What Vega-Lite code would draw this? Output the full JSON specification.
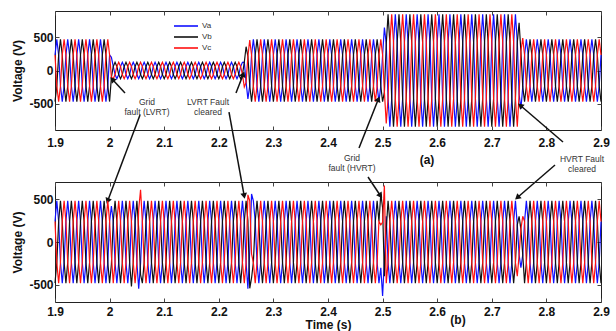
{
"$schema": "https://vega.github.io/schema/vega-lite/v6.json",
"usermeta": {"embedOptions": {"actions": false}},
"background": "white",
"padding": {"left": 11, "top": 10, "right": 6, "bottom": 0},
"config": {
  "font": "Liberation Sans",
  "view": {"stroke": "#222", "strokeWidth": 1},
  "axis": {"grid": false, "domain": false, "tickSize": -4, "tickColor": "#444", "labelFlush": false, "labelFont": "Liberation Sans", "labelFontWeight": "bold", "labelFontSize": 12, "labelColor": "#111", "titleFont": "Liberation Sans", "titleFontWeight": "bold", "titleFontSize": 12, "titleColor": "#111"}
},
"datasets": {
"w": [
{"t":1.9,"Va":235,"Vb":-470,"Vc":235,"a":240,"b":-480,"c":240},
{"t":1.9033,"Va":470,"Vb":-235,"Vc":-235,"a":480,"b":-240,"c":-240},
{"t":1.9067,"Va":235,"Vb":235,"Vc":-470,"a":240,"b":240,"c":-480},
{"t":1.91,"Va":-235,"Vb":470,"Vc":-235,"a":-240,"b":480,"c":-240},
{"t":1.9133,"Va":-470,"Vb":235,"Vc":235,"a":-480,"b":240,"c":240},
{"t":1.9167,"Va":-235,"Vb":-235,"Vc":470,"a":-240,"b":-240,"c":480},
{"t":1.92,"Va":235,"Vb":-470,"Vc":235,"a":240,"b":-480,"c":240},
{"t":1.9233,"Va":470,"Vb":-235,"Vc":-235,"a":480,"b":-240,"c":-240},
{"t":1.9267,"Va":235,"Vb":235,"Vc":-470,"a":240,"b":240,"c":-480},
{"t":1.93,"Va":-235,"Vb":470,"Vc":-235,"a":-240,"b":480,"c":-240},
{"t":1.9333,"Va":-470,"Vb":235,"Vc":235,"a":-480,"b":240,"c":240},
{"t":1.9367,"Va":-235,"Vb":-235,"Vc":470,"a":-240,"b":-240,"c":480},
{"t":1.94,"Va":235,"Vb":-470,"Vc":235,"a":240,"b":-480,"c":240},
{"t":1.9433,"Va":470,"Vb":-235,"Vc":-235,"a":480,"b":-240,"c":-240},
{"t":1.9467,"Va":235,"Vb":235,"Vc":-470,"a":240,"b":240,"c":-480},
{"t":1.95,"Va":-235,"Vb":470,"Vc":-235,"a":-240,"b":480,"c":-240},
{"t":1.9533,"Va":-470,"Vb":235,"Vc":235,"a":-480,"b":240,"c":240},
{"t":1.9567,"Va":-235,"Vb":-235,"Vc":470,"a":-240,"b":-240,"c":480},
{"t":1.96,"Va":235,"Vb":-470,"Vc":235,"a":240,"b":-480,"c":240},
{"t":1.9633,"Va":470,"Vb":-235,"Vc":-235,"a":480,"b":-240,"c":-240},
{"t":1.9667,"Va":235,"Vb":235,"Vc":-470,"a":240,"b":240,"c":-480},
{"t":1.97,"Va":-235,"Vb":470,"Vc":-235,"a":-240,"b":480,"c":-240},
{"t":1.9733,"Va":-470,"Vb":235,"Vc":235,"a":-480,"b":240,"c":240},
{"t":1.9767,"Va":-235,"Vb":-235,"Vc":470,"a":-240,"b":-240,"c":480},
{"t":1.98,"Va":235,"Vb":-470,"Vc":235,"a":240,"b":-480,"c":240},
{"t":1.9833,"Va":470,"Vb":-235,"Vc":-235,"a":480,"b":-240,"c":-240},
{"t":1.9867,"Va":235,"Vb":235,"Vc":-470,"a":240,"b":240,"c":-480},
{"t":1.99,"Va":-235,"Vb":470,"Vc":-235,"a":-240,"b":480,"c":-240},
{"t":1.9933,"Va":-470,"Vb":235,"Vc":235,"a":-480,"b":240,"c":240},
{"t":1.9967,"Va":-235,"Vb":-235,"Vc":470,"a":-240,"b":-240,"c":480},
{"t":2,"Va":235,"Vb":-470,"Vc":235,"a":240,"b":-480,"c":240},
{"t":2.0033,"Va":200,"Vb":-100,"Vc":-100,"a":420,"b":-260,"c":-160},
{"t":2.0067,"Va":62,"Vb":62,"Vc":-124,"a":240,"b":240,"c":-480},
{"t":2.01,"Va":-62,"Vb":124,"Vc":-62,"a":-240,"b":480,"c":-240},
{"t":2.0133,"Va":-124,"Vb":62,"Vc":62,"a":-480,"b":240,"c":240},
{"t":2.0167,"Va":-62,"Vb":-62,"Vc":124,"a":-240,"b":-240,"c":480},
{"t":2.02,"Va":62,"Vb":-124,"Vc":62,"a":240,"b":-480,"c":240},
{"t":2.0233,"Va":124,"Vb":-62,"Vc":-62,"a":480,"b":-240,"c":-240},
{"t":2.0267,"Va":62,"Vb":62,"Vc":-124,"a":240,"b":240,"c":-480},
{"t":2.03,"Va":-62,"Vb":124,"Vc":-62,"a":-240,"b":480,"c":-240},
{"t":2.0333,"Va":-124,"Vb":62,"Vc":62,"a":-480,"b":240,"c":240},
{"t":2.0367,"Va":-62,"Vb":-62,"Vc":124,"a":-240,"b":-240,"c":480},
{"t":2.04,"Va":62,"Vb":-124,"Vc":62,"a":240,"b":-520,"c":240},
{"t":2.0433,"Va":124,"Vb":-62,"Vc":-62,"a":480,"b":-240,"c":-240},
{"t":2.0467,"Va":62,"Vb":62,"Vc":-124,"a":240,"b":240,"c":-480},
{"t":2.05,"Va":-62,"Vb":124,"Vc":-62,"a":-240,"b":480,"c":-240},
{"t":2.0533,"Va":-124,"Vb":62,"Vc":62,"a":-545,"b":150,"c":380},
{"t":2.0567,"Va":-62,"Vb":-62,"Vc":124,"a":-250,"b":-380,"c":610},
{"t":2.06,"Va":62,"Vb":-124,"Vc":62,"a":240,"b":-480,"c":240},
{"t":2.0633,"Va":124,"Vb":-62,"Vc":-62,"a":480,"b":-240,"c":-240},
{"t":2.0667,"Va":62,"Vb":62,"Vc":-124,"a":240,"b":240,"c":-480},
{"t":2.07,"Va":-62,"Vb":124,"Vc":-62,"a":-240,"b":480,"c":-240},
{"t":2.0733,"Va":-124,"Vb":62,"Vc":62,"a":-480,"b":240,"c":240},
{"t":2.0767,"Va":-62,"Vb":-62,"Vc":124,"a":-240,"b":-240,"c":480},
{"t":2.08,"Va":62,"Vb":-124,"Vc":62,"a":240,"b":-480,"c":240},
{"t":2.0833,"Va":124,"Vb":-62,"Vc":-62,"a":480,"b":-240,"c":-240},
{"t":2.0867,"Va":62,"Vb":62,"Vc":-124,"a":240,"b":240,"c":-480},
{"t":2.09,"Va":-62,"Vb":124,"Vc":-62,"a":-240,"b":480,"c":-240},
{"t":2.0933,"Va":-124,"Vb":62,"Vc":62,"a":-480,"b":240,"c":240},
{"t":2.0967,"Va":-62,"Vb":-62,"Vc":124,"a":-240,"b":-240,"c":480},
{"t":2.1,"Va":62,"Vb":-124,"Vc":62,"a":240,"b":-480,"c":240},
{"t":2.1033,"Va":124,"Vb":-62,"Vc":-62,"a":480,"b":-240,"c":-240},
{"t":2.1067,"Va":62,"Vb":62,"Vc":-124,"a":240,"b":240,"c":-480},
{"t":2.11,"Va":-62,"Vb":124,"Vc":-62,"a":-240,"b":480,"c":-240},
{"t":2.1133,"Va":-124,"Vb":62,"Vc":62,"a":-480,"b":240,"c":240},
{"t":2.1167,"Va":-62,"Vb":-62,"Vc":124,"a":-240,"b":-240,"c":480},
{"t":2.12,"Va":62,"Vb":-124,"Vc":62,"a":240,"b":-480,"c":240},
{"t":2.1233,"Va":124,"Vb":-62,"Vc":-62,"a":480,"b":-240,"c":-240},
{"t":2.1267,"Va":62,"Vb":62,"Vc":-124,"a":240,"b":240,"c":-480},
{"t":2.13,"Va":-62,"Vb":124,"Vc":-62,"a":-240,"b":480,"c":-240},
{"t":2.1333,"Va":-124,"Vb":62,"Vc":62,"a":-480,"b":240,"c":240},
{"t":2.1367,"Va":-62,"Vb":-62,"Vc":124,"a":-240,"b":-240,"c":480},
{"t":2.14,"Va":62,"Vb":-124,"Vc":62,"a":240,"b":-480,"c":240},
{"t":2.1433,"Va":124,"Vb":-62,"Vc":-62,"a":480,"b":-240,"c":-240},
{"t":2.1467,"Va":62,"Vb":62,"Vc":-124,"a":240,"b":240,"c":-480},
{"t":2.15,"Va":-62,"Vb":124,"Vc":-62,"a":-240,"b":480,"c":-240},
{"t":2.1533,"Va":-124,"Vb":62,"Vc":62,"a":-480,"b":240,"c":240},
{"t":2.1567,"Va":-62,"Vb":-62,"Vc":124,"a":-240,"b":-240,"c":480},
{"t":2.16,"Va":62,"Vb":-124,"Vc":62,"a":240,"b":-480,"c":240},
{"t":2.1633,"Va":124,"Vb":-62,"Vc":-62,"a":480,"b":-240,"c":-240},
{"t":2.1667,"Va":62,"Vb":62,"Vc":-124,"a":240,"b":240,"c":-480},
{"t":2.17,"Va":-62,"Vb":124,"Vc":-62,"a":-240,"b":480,"c":-240},
{"t":2.1733,"Va":-124,"Vb":62,"Vc":62,"a":-480,"b":240,"c":240},
{"t":2.1767,"Va":-62,"Vb":-62,"Vc":124,"a":-240,"b":-240,"c":480},
{"t":2.18,"Va":62,"Vb":-124,"Vc":62,"a":240,"b":-480,"c":240},
{"t":2.1833,"Va":124,"Vb":-62,"Vc":-62,"a":480,"b":-240,"c":-240},
{"t":2.1867,"Va":62,"Vb":62,"Vc":-124,"a":240,"b":240,"c":-480},
{"t":2.19,"Va":-62,"Vb":124,"Vc":-62,"a":-240,"b":480,"c":-240},
{"t":2.1933,"Va":-124,"Vb":62,"Vc":62,"a":-480,"b":240,"c":240},
{"t":2.1967,"Va":-62,"Vb":-62,"Vc":124,"a":-240,"b":-240,"c":480},
{"t":2.2,"Va":62,"Vb":-124,"Vc":62,"a":240,"b":-480,"c":240},
{"t":2.2033,"Va":124,"Vb":-62,"Vc":-62,"a":480,"b":-240,"c":-240},
{"t":2.2067,"Va":62,"Vb":62,"Vc":-124,"a":240,"b":240,"c":-480},
{"t":2.21,"Va":-62,"Vb":124,"Vc":-62,"a":-240,"b":480,"c":-240},
{"t":2.2133,"Va":-124,"Vb":62,"Vc":62,"a":-480,"b":240,"c":240},
{"t":2.2167,"Va":-62,"Vb":-62,"Vc":124,"a":-240,"b":-240,"c":480},
{"t":2.22,"Va":62,"Vb":-124,"Vc":62,"a":240,"b":-480,"c":240},
{"t":2.2233,"Va":124,"Vb":-62,"Vc":-62,"a":480,"b":-240,"c":-240},
{"t":2.2267,"Va":62,"Vb":62,"Vc":-124,"a":240,"b":240,"c":-480},
{"t":2.23,"Va":-62,"Vb":124,"Vc":-62,"a":-240,"b":480,"c":-240},
{"t":2.2333,"Va":-124,"Vb":62,"Vc":62,"a":-480,"b":240,"c":240},
{"t":2.2367,"Va":-62,"Vb":-62,"Vc":124,"a":-240,"b":-240,"c":480},
{"t":2.24,"Va":62,"Vb":-124,"Vc":62,"a":240,"b":-480,"c":240},
{"t":2.2433,"Va":124,"Vb":-62,"Vc":-62,"a":480,"b":-240,"c":-240},
{"t":2.2467,"Va":125,"Vb":125,"Vc":-250,"a":240,"b":240,"c":-480},
{"t":2.25,"Va":-180,"Vb":360,"Vc":-180,"a":-240,"b":480,"c":-240},
{"t":2.2533,"Va":-430,"Vb":215,"Vc":215,"a":-545,"b":250,"c":550},
{"t":2.2567,"Va":-230,"Vb":-230,"Vc":460,"a":-100,"b":-540,"c":480},
{"t":2.26,"Va":235,"Vb":-470,"Vc":235,"a":560,"b":-420,"c":-140},
{"t":2.2633,"Va":470,"Vb":-235,"Vc":-235,"a":480,"b":-240,"c":-240},
{"t":2.2667,"Va":235,"Vb":235,"Vc":-470,"a":240,"b":240,"c":-480},
{"t":2.27,"Va":-235,"Vb":470,"Vc":-235,"a":-240,"b":480,"c":-240},
{"t":2.2733,"Va":-470,"Vb":235,"Vc":235,"a":-480,"b":240,"c":240},
{"t":2.2767,"Va":-235,"Vb":-235,"Vc":470,"a":-240,"b":-240,"c":480},
{"t":2.28,"Va":235,"Vb":-470,"Vc":235,"a":240,"b":-480,"c":240},
{"t":2.2833,"Va":470,"Vb":-235,"Vc":-235,"a":480,"b":-240,"c":-240},
{"t":2.2867,"Va":235,"Vb":235,"Vc":-470,"a":240,"b":240,"c":-480},
{"t":2.29,"Va":-235,"Vb":470,"Vc":-235,"a":-240,"b":480,"c":-240},
{"t":2.2933,"Va":-470,"Vb":235,"Vc":235,"a":-480,"b":240,"c":240},
{"t":2.2967,"Va":-235,"Vb":-235,"Vc":470,"a":-240,"b":-240,"c":480},
{"t":2.3,"Va":235,"Vb":-470,"Vc":235,"a":240,"b":-480,"c":240},
{"t":2.3033,"Va":470,"Vb":-235,"Vc":-235,"a":480,"b":-240,"c":-240},
{"t":2.3067,"Va":235,"Vb":235,"Vc":-470,"a":240,"b":240,"c":-480},
{"t":2.31,"Va":-235,"Vb":470,"Vc":-235,"a":-240,"b":480,"c":-240},
{"t":2.3133,"Va":-470,"Vb":235,"Vc":235,"a":-480,"b":240,"c":240},
{"t":2.3167,"Va":-235,"Vb":-235,"Vc":470,"a":-240,"b":-240,"c":480},
{"t":2.32,"Va":235,"Vb":-470,"Vc":235,"a":240,"b":-480,"c":240},
{"t":2.3233,"Va":470,"Vb":-235,"Vc":-235,"a":480,"b":-240,"c":-240},
{"t":2.3267,"Va":235,"Vb":235,"Vc":-470,"a":240,"b":240,"c":-480},
{"t":2.33,"Va":-235,"Vb":470,"Vc":-235,"a":-240,"b":480,"c":-240},
{"t":2.3333,"Va":-470,"Vb":235,"Vc":235,"a":-480,"b":240,"c":240},
{"t":2.3367,"Va":-235,"Vb":-235,"Vc":470,"a":-240,"b":-240,"c":480},
{"t":2.34,"Va":235,"Vb":-470,"Vc":235,"a":240,"b":-480,"c":240},
{"t":2.3433,"Va":470,"Vb":-235,"Vc":-235,"a":480,"b":-240,"c":-240},
{"t":2.3467,"Va":235,"Vb":235,"Vc":-470,"a":240,"b":240,"c":-480},
{"t":2.35,"Va":-235,"Vb":470,"Vc":-235,"a":-240,"b":480,"c":-240},
{"t":2.3533,"Va":-470,"Vb":235,"Vc":235,"a":-480,"b":240,"c":240},
{"t":2.3567,"Va":-235,"Vb":-235,"Vc":470,"a":-240,"b":-240,"c":480},
{"t":2.36,"Va":235,"Vb":-470,"Vc":235,"a":240,"b":-480,"c":240},
{"t":2.3633,"Va":470,"Vb":-235,"Vc":-235,"a":480,"b":-240,"c":-240},
{"t":2.3667,"Va":235,"Vb":235,"Vc":-470,"a":240,"b":240,"c":-480},
{"t":2.37,"Va":-235,"Vb":470,"Vc":-235,"a":-240,"b":480,"c":-240},
{"t":2.3733,"Va":-470,"Vb":235,"Vc":235,"a":-480,"b":240,"c":240},
{"t":2.3767,"Va":-235,"Vb":-235,"Vc":470,"a":-240,"b":-240,"c":480},
{"t":2.38,"Va":235,"Vb":-470,"Vc":235,"a":240,"b":-480,"c":240},
{"t":2.3833,"Va":470,"Vb":-235,"Vc":-235,"a":480,"b":-240,"c":-240},
{"t":2.3867,"Va":235,"Vb":235,"Vc":-470,"a":240,"b":240,"c":-480},
{"t":2.39,"Va":-235,"Vb":470,"Vc":-235,"a":-240,"b":480,"c":-240},
{"t":2.3933,"Va":-470,"Vb":235,"Vc":235,"a":-480,"b":240,"c":240},
{"t":2.3967,"Va":-235,"Vb":-235,"Vc":470,"a":-240,"b":-240,"c":480},
{"t":2.4,"Va":235,"Vb":-470,"Vc":235,"a":240,"b":-480,"c":240},
{"t":2.4033,"Va":470,"Vb":-235,"Vc":-235,"a":480,"b":-240,"c":-240},
{"t":2.4067,"Va":235,"Vb":235,"Vc":-470,"a":240,"b":240,"c":-480},
{"t":2.41,"Va":-235,"Vb":470,"Vc":-235,"a":-240,"b":480,"c":-240},
{"t":2.4133,"Va":-470,"Vb":235,"Vc":235,"a":-480,"b":240,"c":240},
{"t":2.4167,"Va":-235,"Vb":-235,"Vc":470,"a":-240,"b":-240,"c":480},
{"t":2.42,"Va":235,"Vb":-470,"Vc":235,"a":240,"b":-480,"c":240},
{"t":2.4233,"Va":470,"Vb":-235,"Vc":-235,"a":480,"b":-240,"c":-240},
{"t":2.4267,"Va":235,"Vb":235,"Vc":-470,"a":240,"b":240,"c":-480},
{"t":2.43,"Va":-235,"Vb":470,"Vc":-235,"a":-240,"b":480,"c":-240},
{"t":2.4333,"Va":-470,"Vb":235,"Vc":235,"a":-480,"b":240,"c":240},
{"t":2.4367,"Va":-235,"Vb":-235,"Vc":470,"a":-240,"b":-240,"c":480},
{"t":2.44,"Va":235,"Vb":-470,"Vc":235,"a":240,"b":-480,"c":240},
{"t":2.4433,"Va":470,"Vb":-235,"Vc":-235,"a":480,"b":-240,"c":-240},
{"t":2.4467,"Va":235,"Vb":235,"Vc":-470,"a":240,"b":240,"c":-480},
{"t":2.45,"Va":-235,"Vb":470,"Vc":-235,"a":-240,"b":480,"c":-240},
{"t":2.4533,"Va":-470,"Vb":235,"Vc":235,"a":-480,"b":240,"c":240},
{"t":2.4567,"Va":-235,"Vb":-235,"Vc":470,"a":-240,"b":-240,"c":480},
{"t":2.46,"Va":235,"Vb":-470,"Vc":235,"a":240,"b":-480,"c":240},
{"t":2.4633,"Va":470,"Vb":-235,"Vc":-235,"a":480,"b":-240,"c":-240},
{"t":2.4667,"Va":235,"Vb":235,"Vc":-470,"a":240,"b":240,"c":-480},
{"t":2.47,"Va":-235,"Vb":470,"Vc":-235,"a":-240,"b":480,"c":-240},
{"t":2.4733,"Va":-470,"Vb":235,"Vc":235,"a":-480,"b":240,"c":240},
{"t":2.4767,"Va":-235,"Vb":-235,"Vc":470,"a":-240,"b":-240,"c":480},
{"t":2.48,"Va":235,"Vb":-470,"Vc":235,"a":240,"b":-480,"c":240},
{"t":2.4833,"Va":470,"Vb":-235,"Vc":-235,"a":480,"b":-240,"c":-240},
{"t":2.4867,"Va":235,"Vb":235,"Vc":-470,"a":240,"b":240,"c":-480},
{"t":2.49,"Va":-235,"Vb":470,"Vc":-235,"a":-240,"b":480,"c":-240},
{"t":2.4933,"Va":-470,"Vb":235,"Vc":235,"a":-480,"b":240,"c":240},
{"t":2.4967,"Va":-235,"Vb":-235,"Vc":470,"a":-300,"b":560,"c":200},
{"t":2.5,"Va":235,"Vb":-470,"Vc":235,"a":-630,"b":400,"c":230},
{"t":2.5033,"Va":650,"Vb":-325,"Vc":-325,"a":-200,"b":-400,"c":660},
{"t":2.5067,"Va":400,"Vb":400,"Vc":-800,"a":300,"b":150,"c":-480},
{"t":2.51,"Va":-425,"Vb":850,"Vc":-425,"a":-240,"b":480,"c":-240},
{"t":2.5133,"Va":-850,"Vb":425,"Vc":425,"a":-480,"b":240,"c":240},
{"t":2.5167,"Va":-425,"Vb":-425,"Vc":850,"a":-240,"b":-240,"c":480},
{"t":2.52,"Va":425,"Vb":-850,"Vc":425,"a":240,"b":-480,"c":240},
{"t":2.5233,"Va":850,"Vb":-425,"Vc":-425,"a":480,"b":-240,"c":-240},
{"t":2.5267,"Va":425,"Vb":425,"Vc":-850,"a":240,"b":240,"c":-480},
{"t":2.53,"Va":-425,"Vb":850,"Vc":-425,"a":-240,"b":480,"c":-240},
{"t":2.5333,"Va":-850,"Vb":425,"Vc":425,"a":-480,"b":240,"c":240},
{"t":2.5367,"Va":-425,"Vb":-425,"Vc":850,"a":-240,"b":-240,"c":480},
{"t":2.54,"Va":425,"Vb":-850,"Vc":425,"a":240,"b":-480,"c":240},
{"t":2.5433,"Va":850,"Vb":-425,"Vc":-425,"a":480,"b":-240,"c":-240},
{"t":2.5467,"Va":425,"Vb":425,"Vc":-850,"a":240,"b":240,"c":-480},
{"t":2.55,"Va":-425,"Vb":850,"Vc":-425,"a":-240,"b":480,"c":-240},
{"t":2.5533,"Va":-850,"Vb":425,"Vc":425,"a":-480,"b":240,"c":240},
{"t":2.5567,"Va":-425,"Vb":-425,"Vc":850,"a":-240,"b":-240,"c":480},
{"t":2.56,"Va":425,"Vb":-850,"Vc":425,"a":240,"b":-480,"c":240},
{"t":2.5633,"Va":850,"Vb":-425,"Vc":-425,"a":480,"b":-240,"c":-240},
{"t":2.5667,"Va":425,"Vb":425,"Vc":-850,"a":240,"b":240,"c":-480},
{"t":2.57,"Va":-425,"Vb":850,"Vc":-425,"a":-240,"b":480,"c":-240},
{"t":2.5733,"Va":-850,"Vb":425,"Vc":425,"a":-480,"b":240,"c":240},
{"t":2.5767,"Va":-425,"Vb":-425,"Vc":850,"a":-240,"b":-240,"c":480},
{"t":2.58,"Va":425,"Vb":-850,"Vc":425,"a":240,"b":-480,"c":240},
{"t":2.5833,"Va":850,"Vb":-425,"Vc":-425,"a":480,"b":-240,"c":-240},
{"t":2.5867,"Va":425,"Vb":425,"Vc":-850,"a":240,"b":240,"c":-480},
{"t":2.59,"Va":-425,"Vb":850,"Vc":-425,"a":-240,"b":480,"c":-240},
{"t":2.5933,"Va":-850,"Vb":425,"Vc":425,"a":-480,"b":240,"c":240},
{"t":2.5967,"Va":-425,"Vb":-425,"Vc":850,"a":-240,"b":-240,"c":480},
{"t":2.6,"Va":425,"Vb":-850,"Vc":425,"a":240,"b":-480,"c":240},
{"t":2.6033,"Va":850,"Vb":-425,"Vc":-425,"a":480,"b":-240,"c":-240},
{"t":2.6067,"Va":425,"Vb":425,"Vc":-850,"a":240,"b":240,"c":-480},
{"t":2.61,"Va":-425,"Vb":850,"Vc":-425,"a":-240,"b":480,"c":-240},
{"t":2.6133,"Va":-850,"Vb":425,"Vc":425,"a":-480,"b":240,"c":240},
{"t":2.6167,"Va":-425,"Vb":-425,"Vc":850,"a":-240,"b":-240,"c":480},
{"t":2.62,"Va":425,"Vb":-850,"Vc":425,"a":240,"b":-480,"c":240},
{"t":2.6233,"Va":850,"Vb":-425,"Vc":-425,"a":480,"b":-240,"c":-240},
{"t":2.6267,"Va":425,"Vb":425,"Vc":-850,"a":240,"b":240,"c":-480},
{"t":2.63,"Va":-425,"Vb":850,"Vc":-425,"a":-240,"b":480,"c":-240},
{"t":2.6333,"Va":-850,"Vb":425,"Vc":425,"a":-480,"b":240,"c":240},
{"t":2.6367,"Va":-425,"Vb":-425,"Vc":850,"a":-240,"b":-240,"c":480},
{"t":2.64,"Va":425,"Vb":-850,"Vc":425,"a":240,"b":-480,"c":240},
{"t":2.6433,"Va":850,"Vb":-425,"Vc":-425,"a":480,"b":-240,"c":-240},
{"t":2.6467,"Va":425,"Vb":425,"Vc":-850,"a":240,"b":240,"c":-480},
{"t":2.65,"Va":-425,"Vb":850,"Vc":-425,"a":-240,"b":480,"c":-240},
{"t":2.6533,"Va":-850,"Vb":425,"Vc":425,"a":-480,"b":240,"c":240},
{"t":2.6567,"Va":-425,"Vb":-425,"Vc":850,"a":-240,"b":-240,"c":480},
{"t":2.66,"Va":425,"Vb":-850,"Vc":425,"a":240,"b":-480,"c":240},
{"t":2.6633,"Va":850,"Vb":-425,"Vc":-425,"a":480,"b":-240,"c":-240},
{"t":2.6667,"Va":425,"Vb":425,"Vc":-850,"a":240,"b":240,"c":-480},
{"t":2.67,"Va":-425,"Vb":850,"Vc":-425,"a":-240,"b":480,"c":-240},
{"t":2.6733,"Va":-850,"Vb":425,"Vc":425,"a":-480,"b":240,"c":240},
{"t":2.6767,"Va":-425,"Vb":-425,"Vc":850,"a":-240,"b":-240,"c":480},
{"t":2.68,"Va":425,"Vb":-850,"Vc":425,"a":240,"b":-480,"c":240},
{"t":2.6833,"Va":850,"Vb":-425,"Vc":-425,"a":480,"b":-240,"c":-240},
{"t":2.6867,"Va":425,"Vb":425,"Vc":-850,"a":240,"b":240,"c":-480},
{"t":2.69,"Va":-425,"Vb":850,"Vc":-425,"a":-240,"b":480,"c":-240},
{"t":2.6933,"Va":-850,"Vb":425,"Vc":425,"a":-480,"b":240,"c":240},
{"t":2.6967,"Va":-425,"Vb":-425,"Vc":850,"a":-240,"b":-240,"c":480},
{"t":2.7,"Va":425,"Vb":-850,"Vc":425,"a":240,"b":-480,"c":240},
{"t":2.7033,"Va":850,"Vb":-425,"Vc":-425,"a":480,"b":-240,"c":-240},
{"t":2.7067,"Va":425,"Vb":425,"Vc":-850,"a":240,"b":240,"c":-480},
{"t":2.71,"Va":-425,"Vb":850,"Vc":-425,"a":-240,"b":480,"c":-240},
{"t":2.7133,"Va":-850,"Vb":425,"Vc":425,"a":-480,"b":240,"c":240},
{"t":2.7167,"Va":-425,"Vb":-425,"Vc":850,"a":-240,"b":-240,"c":480},
{"t":2.72,"Va":425,"Vb":-850,"Vc":425,"a":240,"b":-480,"c":240},
{"t":2.7233,"Va":850,"Vb":-425,"Vc":-425,"a":480,"b":-240,"c":-240},
{"t":2.7267,"Va":425,"Vb":425,"Vc":-850,"a":240,"b":240,"c":-480},
{"t":2.73,"Va":-425,"Vb":850,"Vc":-425,"a":-240,"b":480,"c":-240},
{"t":2.7333,"Va":-850,"Vb":425,"Vc":425,"a":-480,"b":240,"c":240},
{"t":2.7367,"Va":-425,"Vb":-425,"Vc":850,"a":-240,"b":-240,"c":480},
{"t":2.74,"Va":425,"Vb":-850,"Vc":425,"a":240,"b":-480,"c":240},
{"t":2.7433,"Va":850,"Vb":-425,"Vc":-425,"a":480,"b":-240,"c":-240},
{"t":2.7467,"Va":425,"Vb":425,"Vc":-850,"a":200,"b":200,"c":-400},
{"t":2.75,"Va":-360,"Vb":720,"Vc":-360,"a":-150,"b":300,"c":-150},
{"t":2.7533,"Va":-580,"Vb":290,"Vc":290,"a":-300,"b":150,"c":150},
{"t":2.7567,"Va":-245,"Vb":-245,"Vc":490,"a":-150,"b":-150,"c":300},
{"t":2.76,"Va":235,"Vb":-470,"Vc":235,"a":240,"b":-480,"c":240},
{"t":2.7633,"Va":470,"Vb":-235,"Vc":-235,"a":480,"b":-240,"c":-240},
{"t":2.7667,"Va":235,"Vb":235,"Vc":-470,"a":240,"b":240,"c":-480},
{"t":2.77,"Va":-235,"Vb":470,"Vc":-235,"a":-240,"b":480,"c":-240},
{"t":2.7733,"Va":-470,"Vb":235,"Vc":235,"a":-480,"b":240,"c":240},
{"t":2.7767,"Va":-235,"Vb":-235,"Vc":470,"a":-240,"b":-240,"c":480},
{"t":2.78,"Va":235,"Vb":-470,"Vc":235,"a":240,"b":-480,"c":240},
{"t":2.7833,"Va":470,"Vb":-235,"Vc":-235,"a":480,"b":-240,"c":-240},
{"t":2.7867,"Va":235,"Vb":235,"Vc":-470,"a":240,"b":240,"c":-480},
{"t":2.79,"Va":-235,"Vb":470,"Vc":-235,"a":-240,"b":480,"c":-240},
{"t":2.7933,"Va":-470,"Vb":235,"Vc":235,"a":-480,"b":240,"c":240},
{"t":2.7967,"Va":-235,"Vb":-235,"Vc":470,"a":-240,"b":-240,"c":480},
{"t":2.8,"Va":235,"Vb":-470,"Vc":235,"a":240,"b":-480,"c":240},
{"t":2.8033,"Va":470,"Vb":-235,"Vc":-235,"a":480,"b":-240,"c":-240},
{"t":2.8067,"Va":235,"Vb":235,"Vc":-470,"a":240,"b":240,"c":-480},
{"t":2.81,"Va":-235,"Vb":470,"Vc":-235,"a":-240,"b":480,"c":-240},
{"t":2.8133,"Va":-470,"Vb":235,"Vc":235,"a":-480,"b":240,"c":240},
{"t":2.8167,"Va":-235,"Vb":-235,"Vc":470,"a":-240,"b":-240,"c":480},
{"t":2.82,"Va":235,"Vb":-470,"Vc":235,"a":240,"b":-480,"c":240},
{"t":2.8233,"Va":470,"Vb":-235,"Vc":-235,"a":480,"b":-240,"c":-240},
{"t":2.8267,"Va":235,"Vb":235,"Vc":-470,"a":240,"b":240,"c":-480},
{"t":2.83,"Va":-235,"Vb":470,"Vc":-235,"a":-240,"b":480,"c":-240},
{"t":2.8333,"Va":-470,"Vb":235,"Vc":235,"a":-480,"b":240,"c":240},
{"t":2.8367,"Va":-235,"Vb":-235,"Vc":470,"a":-240,"b":-240,"c":480},
{"t":2.84,"Va":235,"Vb":-470,"Vc":235,"a":240,"b":-480,"c":240},
{"t":2.8433,"Va":470,"Vb":-235,"Vc":-235,"a":480,"b":-240,"c":-240},
{"t":2.8467,"Va":235,"Vb":235,"Vc":-470,"a":240,"b":240,"c":-480},
{"t":2.85,"Va":-235,"Vb":470,"Vc":-235,"a":-240,"b":480,"c":-240},
{"t":2.8533,"Va":-470,"Vb":235,"Vc":235,"a":-480,"b":240,"c":240},
{"t":2.8567,"Va":-235,"Vb":-235,"Vc":470,"a":-240,"b":-240,"c":480},
{"t":2.86,"Va":235,"Vb":-470,"Vc":235,"a":240,"b":-480,"c":240},
{"t":2.8633,"Va":470,"Vb":-235,"Vc":-235,"a":480,"b":-240,"c":-240},
{"t":2.8667,"Va":235,"Vb":235,"Vc":-470,"a":240,"b":240,"c":-480},
{"t":2.87,"Va":-235,"Vb":470,"Vc":-235,"a":-240,"b":480,"c":-240},
{"t":2.8733,"Va":-470,"Vb":235,"Vc":235,"a":-480,"b":240,"c":240},
{"t":2.8767,"Va":-235,"Vb":-235,"Vc":470,"a":-240,"b":-240,"c":480},
{"t":2.88,"Va":235,"Vb":-470,"Vc":235,"a":240,"b":-480,"c":240},
{"t":2.8833,"Va":470,"Vb":-235,"Vc":-235,"a":480,"b":-240,"c":-240},
{"t":2.8867,"Va":235,"Vb":235,"Vc":-470,"a":240,"b":240,"c":-480},
{"t":2.89,"Va":-235,"Vb":470,"Vc":-235,"a":-240,"b":480,"c":-240},
{"t":2.8933,"Va":-470,"Vb":235,"Vc":235,"a":-480,"b":240,"c":240},
{"t":2.8967,"Va":-235,"Vb":-235,"Vc":470,"a":-240,"b":-240,"c":480},
{"t":2.9,"Va":235,"Vb":-470,"Vc":235,"a":240,"b":-480,"c":240}
],
"notes": [
{"t":2.0685,"v":-476,"txt":"Grid\nfault (LVRT)"},
{"t":2.1802,"v":-476,"txt":"LVRT Fault\ncleared"},
{"t":2.444,"v":-1324,"txt":"Grid\nfault (HVRT)"},
{"t":2.8652,"v":-1346,"txt":"HVRT Fault\ncleared"}
],
"arrows": [
{"t":2.0282,"v":-340,"t2":2.0062,"v2":-144,"ang":317},
{"t":2.0557,"v":-673,"t2":1.9971,"v2":-1959,"ang":201},
{"t":2.2315,"v":-340,"t2":2.2443,"v2":-68,"ang":21},
{"t":2.2187,"v":-628,"t2":2.2462,"v2":-1883,"ang":170},
{"t":2.4733,"v":-1611,"t2":2.4952,"v2":-1883,"ang":146},
{"t":2.4568,"v":-1172,"t2":2.4916,"v2":-446,"ang":22},
{"t":2.8304,"v":-1082,"t2":2.7535,"v2":-537,"ang":311},
{"t":2.8158,"v":-1429,"t2":2.748,"v2":-1913,"ang":229}
]
},
"bounds": "flush",
"spacing": 52,
"resolve": {"scale": {"color": "independent"}},
"vconcat": [
{
  "width": 546, "height": 119,
  "resolve": {"axis": {"x": "independent", "y": "independent"}},
  "layer": [
    {
      "data": {"name": "w"},
      "transform": [{"fold": ["Va", "Vb", "Vc"], "as": ["ph", "v"]}],
      "mark": {"type": "line", "strokeWidth": 1.2},
      "encoding": {
        "x": {"field": "t", "type": "quantitative", "scale": {"domain": [1.9, 2.9], "nice": false, "zero": false},
              "axis": {"title": null, "values": [1.9,2,2.1,2.2,2.3,2.4,2.5,2.6,2.7,2.8,2.9], "labelExpr": "'' + datum.value", "labelPadding": 11}},
        "y": {"field": "v", "type": "quantitative", "scale": {"domain": [-900, 900], "nice": false},
              "axis": {"title": "Voltage (V)", "values": [-500, 0, 500], "labelExpr": "'' + datum.value", "labelPadding": 6, "titlePadding": 4}},
        "color": {"field": "ph", "type": "nominal", "scale": {"domain": ["Va", "Vb", "Vc"], "range": ["#1010ff", "#111111", "#ff1010"]},
                  "legend": {"orient": "none", "legendX": 126, "legendY": 10, "direction": "vertical", "title": null, "symbolType": "M-3,0H3", "symbolSize": 64, "symbolStrokeWidth": 1.6, "symbolFillColor": "transparent", "labelFontSize": 8, "labelColor": "#333", "labelOffset": 11, "rowPadding": 2, "padding": 0}},
        "detail": {"field": "ph"}
      }
    },
    {
      "data": {"name": "notes"},
      "mark": {"type": "text", "fontSize": 8.5, "color": "#333", "lineBreak": "\n", "lineHeight": 10, "align": "center", "baseline": "middle"},
      "encoding": {
        "x": {"field": "t", "type": "quantitative", "axis": {"orient": "top", "labels": false, "title": null, "values": [1.9,2,2.1,2.2,2.3,2.4,2.5,2.6,2.7,2.8,2.9]}},
        "y": {"field": "v", "type": "quantitative", "axis": {"orient": "right", "labels": false, "title": null, "values": [-500, 0, 500]}},
        "text": {"field": "txt"}
      }
    },
    {
      "data": {"values": [{"t": 2.5813, "v": -1354, "txt": "(a)"}]},
      "mark": {"type": "text", "fontSize": 12, "fontWeight": "bold", "color": "#111", "align": "center", "baseline": "middle"},
      "encoding": {
        "x": {"field": "t", "type": "quantitative", "axis": null},
        "y": {"field": "v", "type": "quantitative", "axis": null},
        "text": {"field": "txt"}
      }
    },
    {
      "data": {"name": "arrows"},
      "mark": {"type": "rule", "strokeWidth": 1.5, "color": "#111"},
      "encoding": {
        "x": {"field": "t", "type": "quantitative", "axis": null},
        "y": {"field": "v", "type": "quantitative", "axis": null},
        "x2": {"field": "t2"},
        "y2": {"field": "v2"}
      }
    },
    {
      "data": {"name": "arrows"},
      "mark": {"type": "point", "shape": "triangle", "filled": true, "size": 45, "color": "#111", "opacity": 1},
      "encoding": {
        "x": {"field": "t2", "type": "quantitative", "axis": null},
        "y": {"field": "v2", "type": "quantitative", "axis": null},
        "angle": {"field": "ang", "type": "quantitative", "scale": null}
      }
    }
  ]
},
{
  "width": 546, "height": 120,
  "resolve": {"axis": {"x": "independent", "y": "independent"}},
  "layer": [
    {
      "data": {"name": "w"},
      "transform": [{"fold": ["a", "b", "c"], "as": ["ph", "v"]}],
      "mark": {"type": "line", "strokeWidth": 1.2},
      "encoding": {
        "x": {"field": "t", "type": "quantitative", "scale": {"domain": [1.9, 2.9], "nice": false, "zero": false},
              "axis": {"title": "Time (s)", "values": [1.9,2,2.1,2.2,2.3,2.4,2.5,2.6,2.7,2.8,2.9], "labelExpr": "'' + datum.value", "labelPadding": 8, "titlePadding": 2}},
        "y": {"field": "v", "type": "quantitative", "scale": {"domain": [-700, 700], "nice": false},
              "axis": {"title": "Voltage (V)", "values": [-500, 0, 500], "labelExpr": "'' + datum.value", "labelPadding": 6, "titlePadding": 4}},
        "color": {"field": "ph", "type": "nominal", "scale": {"domain": ["a", "b", "c"], "range": ["#1010ff", "#111111", "#ff1010"]}, "legend": null},
        "detail": {"field": "ph"}
      }
    },
    {
      "data": {"values": [{"t": 2.6381, "v": -910, "txt": "(b)"}]},
      "mark": {"type": "text", "fontSize": 12, "fontWeight": "bold", "color": "#111", "align": "center", "baseline": "middle"},
      "encoding": {
        "x": {"field": "t", "type": "quantitative", "axis": {"orient": "top", "labels": false, "title": null, "values": [1.9,2,2.1,2.2,2.3,2.4,2.5,2.6,2.7,2.8,2.9]}},
        "y": {"field": "v", "type": "quantitative", "axis": {"orient": "right", "labels": false, "title": null, "values": [-500, 0, 500]}},
        "text": {"field": "txt"}
      }
    }
  ]
}
]
}
